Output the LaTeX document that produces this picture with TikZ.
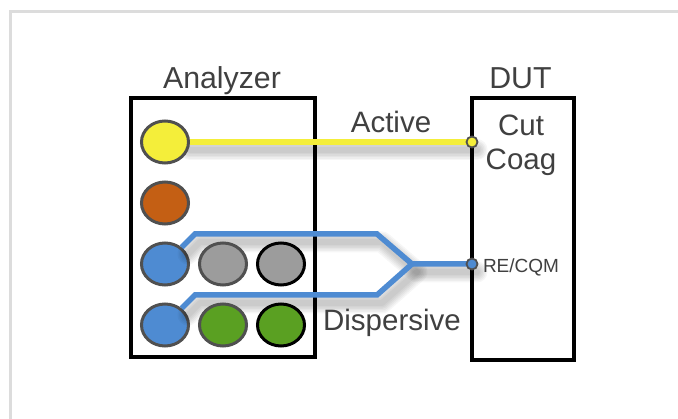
\documentclass[tikz,border=0pt]{standalone}
\usepackage{fontspec}
\setmainfont{Liberation Sans}
\definecolor{txt}{HTML}{404040}
\definecolor{wy}{HTML}{F4EE3A}
\definecolor{wb}{HTML}{4E8BD2}
\definecolor{wo}{HTML}{C45F14}
\definecolor{wg}{HTML}{9C9C9C}
\definecolor{wv}{HTML}{5AA022}
\definecolor{ring}{HTML}{505050}
\definecolor{frame}{HTML}{DCDCDC}
\usetikzlibrary{shapes.geometric}
\tikzset{
  x=1pt,y=-1pt,
  box/.style={draw=black,line width=3.6pt,fill=none},
  port/.style={ellipse,draw=ring,line width=3pt,minimum width=47pt,minimum height=42pt,inner sep=0pt},
  portk/.style={port,draw=black},
  pin/.style={circle,draw=ring,line width=1.8pt,minimum size=11pt,inner sep=0pt},
  lab/.style={text=txt,font=\fontsize{29.5}{32}\selectfont,inner sep=0pt,anchor=base},
  wire/.style={line width=5.5pt,line join=miter},
}
\newcommand{\softshade}[1]{%
  \foreach \w in {21,18,15,12,9,6}{%
    \draw[black,opacity=.035,line width=\w pt,line join=round,line cap=round,
      transform canvas={xshift=5pt,yshift=-8pt}] #1;}}
\begin{document}
\begin{tikzpicture}
\useasboundingbox (0,0) rectangle (678,419);
\fill[white] (0,0) rectangle (678,419);
\draw[frame,line width=3.5pt] (10.5,419) -- (10.5,11.5) -- (678,11.5);
% named points
\coordinate (ul) at (195,234);
\coordinate (ur) at (377,234);
\coordinate (ll) at (195,295);
\coordinate (lr) at (377,295);
\coordinate (join) at (412,264);
\coordinate (yend) at (472,142);
\coordinate (bend) at (472,264);
\coordinate (ys) at (185,142);
\coordinate (s1) at (183,246);
\coordinate (s2) at (183,307);
% blue ports sit under the wire shadow
\node[port,fill=wb] (b1) at (165,264) {};
\node[port,fill=wb] (b2) at (165,325) {};
% shadows
\softshade{(ys) -- (yend)}
\softshade{(s1) -- (ul) -- (ur) -- (join) -- (bend)}
\softshade{(s2) -- (ll) -- (lr) -- (join)}
% boxes
\node[box,minimum width=184pt,minimum height=259pt,inner sep=0pt] (analyzer) at (223,227.5) {};
\node[box,minimum width=102pt,minimum height=262pt,inner sep=0pt] (dut) at (523,229) {};
% ports
\node[port,fill=wy] (yel) at (165,142) {};
\node[port,fill=wo] (ora) at (165,203) {};
\node[port,fill=wg] (g1) at (223,264) {};
\node[portk,fill=wg] (g2) at (281,264) {};
\node[port,fill=wv] (v1) at (223,325) {};
\node[portk,fill=wv] (v2) at (281,325) {};
% wires
\draw[wire,wy] (yel) -- (yend);
\draw[wire,wb] (b1) -- (ul) -- (ur) -- (join) -- (bend);
\draw[wire,wb] (b2) -- (ll) -- (lr) -- (join);
\node[pin,fill=wy] (pa) at (yend) {};
\node[pin,fill=wb] (pb) at (bend) {};
% labels
\node[lab,font=\fontsize{30.3}{32}\selectfont] (tA) at (222,89) {Analyzer};
\node[lab,font=\fontsize{30.3}{32}\selectfont] (tD) at (520.5,89) {DUT};
\node[lab] (tAc) at (391,133) {Active};
\node[lab] (tCu) at (521,136) {Cut};
\node[lab] (tCo) at (521,170) {Coag};
\node[lab] (tDi) at (392,331) {Dispersive};
\node[lab,font=\fontsize{19}{21}\selectfont] (tRE) at (521,273) {RE/CQM};
\end{tikzpicture}
\end{document}
